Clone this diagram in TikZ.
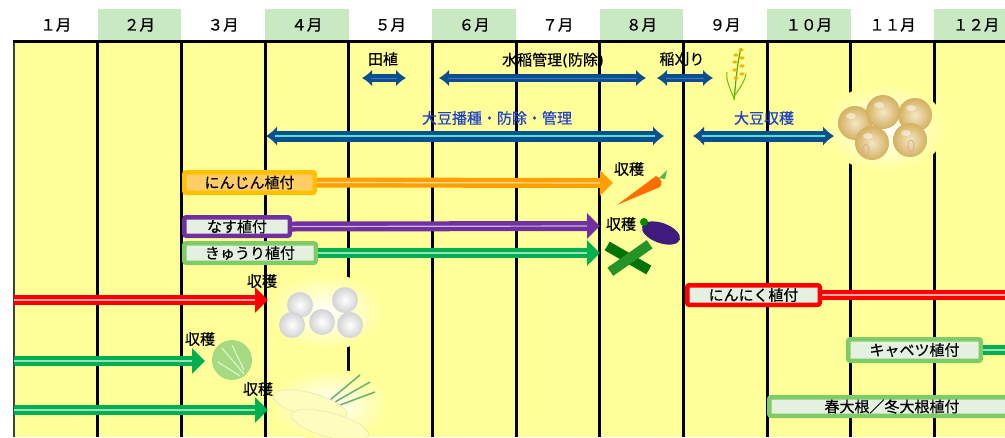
\documentclass[tikz,border=0pt]{standalone}
\usepackage{fontspec}
\setmainfont{Noto Sans CJK JP}[FakeBold=0.5]
\newfontfamily\dvs{DejaVu Sans}[FakeBold=0.5]
\usetikzlibrary{arrows.meta}
\definecolor{yel}{HTML}{FFFF99}
\definecolor{hdr}{HTML}{C9E9C3}
\definecolor{rblue}{HTML}{0C4F8E}
\definecolor{lblue}{HTML}{3A78B8}
\definecolor{cyanl}{HTML}{48E6CC}
\definecolor{tblue}{HTML}{1F40C8}
\definecolor{orgA}{HTML}{FFA000}
\definecolor{orgB}{HTML}{FFC000}
\definecolor{orgF}{HTML}{FFCC66}
\definecolor{purp}{HTML}{7030A0}
\definecolor{grn}{HTML}{00B050}
\definecolor{lgrn}{HTML}{7FCC66}
\definecolor{boxf}{HTML}{E4F1E1}
\definecolor{red1}{HTML}{FF0000}
\definecolor{bean}{HTML}{E8CF8A}
\definecolor{beanD}{HTML}{D4B060}
\tikzset{
  mon/.style={font=\fontsize{15.5}{17}\selectfont, inner sep=0pt},
  lab/.style={font=\fontsize{15}{17}\selectfont, inner sep=0pt},
  blab/.style={lab, text=tblue},
  vbox/.style={draw=#1, line width=4.5pt, rounded corners=2pt, fill=boxf,
     font=\fontsize{15}{17}\selectfont, inner sep=0pt},
  ricearr/.style={rblue, line width=8pt, {Latex[length=10pt,width=17pt]}-{Latex[length=10pt,width=17pt]}},
  ricein/.style={lblue, line width=1pt, shorten <=9pt, shorten >=9pt},
  soyarr/.style={rblue, line width=11pt, {Latex[length=11pt,width=20pt]}-{Latex[length=11pt,width=20pt]}},
  soyin/.style={cyanl, line width=2pt, shorten <=9pt, shorten >=9pt},
  bar/.style={#1, line width=10pt, -{Triangle[length=13pt,width=25pt]}},
  barin/.style={#1, line width=1.2pt, shorten >=13pt},
}
\begin{document}
\begin{tikzpicture}[x=1pt,y=-1pt]
\useasboundingbox (0,0) rectangle (1005,437);
\begin{scope}
\clip (0,0) rectangle (1005,437);
% background
\fill[yel] (14,41) rectangle (1010,437);
\foreach \i in {2,4,...,12}{
  \fill[hdr] ({14+83.67*(\i-1)},9) rectangle ({14+83.67*\i},40);
}
\foreach \k in {1,...,11}{
  \draw[line width=3pt] ({14+83.67*\k},40) -- ({14+83.67*\k},437);
}
\draw[line width=2.5pt, black!75] (14,40) -- (14,437);
\draw[line width=3pt] (12.75,41.5) -- (1010,41.5);
% months
\node[mon] (m1) at (55.8,25) {１月};
\node[mon] (m2) at (139.5,25) {２月};
\node[mon] (m3) at (223.2,25) {３月};
\node[mon] (m4) at (306.8,25) {４月};
\node[mon] (m5) at (390.5,25) {５月};
\node[mon] (m6) at (474.2,25) {６月};
\node[mon] (m7) at (557.8,25) {７月};
\node[mon] (m8) at (641.5,25) {８月};
\node[mon] (m9) at (725.2,25) {９月};
\node[mon] (m10) at (808.8,25) {１０月};
\node[mon] (m11) at (892.5,25) {１１月};
\node[mon] (m12) at (976.2,25) {１２月};

% ---------- pictures (drawn directly) ----------
% rice ear
\draw[green!55!black!70!yellow, line width=1.2pt] (734,100) .. controls (736,80) and (737,65) .. (741,48);
\draw[green!60!black!60!yellow, line width=1pt] (734,98) .. controls (728,85) and (726,78) .. (727,72);
\draw[green!60!black!60!yellow, line width=1pt] (735,95) .. controls (742,85) and (745,80) .. (746,74);
\foreach \yy/\dx in {50/2,55/-3,58/3,62/-4,66/3,70/-4,74/3,78/-3}{
  \fill[orgB!80!brown] ({739+\dx},\yy) ellipse (2.6pt and 1.6pt);
}
% soybeans
\shade[inner color=white, outer color=yel] (885,128) ellipse (60pt and 44pt);
\foreach \cx/\cy in {855/123,883/112,915/115,872/143,910/140}{
  \shade[inner color=bean!50!white, outer color=beanD] (\cx,\cy) circle (17pt);
  \fill[white, opacity=0.5] ({\cx-4},{\cy-7}) ellipse (5pt and 3pt);
}
\draw[brown!60, line width=1pt] (866,150) ellipse (3pt and 6pt);
\draw[brown!60, line width=1pt] (911,146) ellipse (3pt and 6pt);
% carrot
\fill[orange!85!red] (617,205) -- (656,176) .. controls (662,178) and (663,184) .. (660,187) -- cycle;
\fill[green!60!black!70] (659,178) -- (667,170) -- (665,179) -- cycle;
% eggplant
\fill[purp!80!blue!70!black, rotate around={-20:(661,233)}] (661,233) ellipse (20pt and 10pt);
\fill[green!55!black] (644,222) circle (4pt);
% cucumbers
\fill[green!45!black, rotate around={-30:(628,258)}] (604,253) rectangle (652,263);
\fill[green!50!black!85, rotate around={35:(630,258)}] (606,253) rectangle (654,263);
% garlic
\shade[inner color=white, outer color=yel] (325,312) ellipse (58pt and 38pt);
\foreach \cx/\cy in {300/305,345/300,322/322,292/325,350/325}{
  \shade[inner color=white, outer color=gray!35!white] (\cx,\cy) circle (13pt);
}
% cabbage
\fill[green!45!lime!40!white!85!black] (232,360) circle (20pt);
\draw[white!85!green, line width=1pt] (222,348) -- (244,374) (232,345) -- (244,370) (218,362) -- (240,376);
% daikon
\shade[inner color=white, outer color=yel] (330,405) ellipse (58pt and 36pt);
\draw[green!50!black!60, line width=1.5pt] (330,400) -- (360,375) (335,402) -- (370,382) (340,405) -- (375,392);
\fill[yellow!25!white, draw=yellow!50!gray!50, rotate around={-15:(310,405)}] (310,405) ellipse (38pt and 12pt);
\fill[yellow!25!white, draw=yellow!50!gray!50, rotate around={-15:(330,425)}] (330,425) ellipse (40pt and 12pt);

% ---------- rice ----------
\node[lab] (l1) at (383,59) {田植};
\node[lab] (l2) at (553,60) {水稲管理{\dvs(}防除{\dvs)}};
\node[lab] (l3) at (682,59) {稲刈り};
\coordinate (a1s) at (362,78); \coordinate (a1e) at (406,78);
\coordinate (a2s) at (439,78); \coordinate (a2e) at (646,78);
\coordinate (a3s) at (657,78); \coordinate (a3e) at (713,78);
\draw[ricearr] (a1s) -- (a1e); \draw[ricein] (a1s) -- (a1e);
\draw[ricearr] (a2s) -- (a2e); \draw[ricein] (a2s) -- (a2e);
\draw[ricearr] (a3s) -- (a3e); \draw[ricein] (a3s) -- (a3e);
% ---------- soybean ----------
\node[blab] (l4) at (497,118) {大豆播種・防除・管理};
\node[blab] (l5) at (764,118) {大豆収穫};
\coordinate (s1s) at (266,136); \coordinate (s1e) at (664,136);
\coordinate (s2s) at (693,136); \coordinate (s2e) at (834,136);
\draw[soyarr] (s1s) -- (s1e); \draw[soyin] (s1s) -- (s1e);
\draw[soyarr] (s2s) -- (s2e); \draw[soyin] (s2s) -- (s2e);

% ---------- carrot / eggplant / cucumber ----------
\coordinate (c1e) at (613,183);
\coordinate (c2e) at (600,226);
\coordinate (c3e) at (600,253);
\node[vbox=orgB, fill=orgF, minimum width=130.5pt, minimum height=20.5pt] (b1) at (249.5,182.5) {にんじん植付};
\node[vbox=purp, minimum width=105.5pt, minimum height=18.5pt] (b2) at (237,226.5) {なす植付};
\node[vbox=lgrn, minimum width=131.5pt, minimum height=19.5pt] (b3) at (250,253) {きゅうり植付};
\draw[bar=orgA] (b1.east) -- (c1e); \draw[barin=orgF!60!white] (b1.east) -- (c1e);
\draw[bar=purp] (b2.east) -- (c2e); \draw[barin=purp!35!white] (b2.east) -- (c2e);
\draw[bar=grn] (b3.east) -- (c3e); \draw[barin=grn!40!white] (b3.east) -- (c3e);
\node[lab] (h1) at (629,169) {収穫};
\node[lab] (h2) at (621,224) {収穫};

% ---------- garlic ----------
\coordinate (g1s) at (14,300); \coordinate (g1e) at (268,300);
\draw[bar=red1] (g1s) -- (g1e); \draw[barin=red1!35!white] (g1s) -- (g1e);
\node[lab] (h3) at (262,281) {収穫};
\coordinate (g2e) at (1012,295);
\draw[red1, line width=10pt] (753,295) -- (g2e);
\draw[red1!35!white, line width=1.2pt] (753,295) -- (g2e);
\node[vbox=red1, minimum width=132.5pt, minimum height=19.5pt] (b4) at (753.5,295) {にんにく植付};

% ---------- cabbage ----------
\coordinate (k1s) at (14,361); \coordinate (k1e) at (205,361);
\draw[bar=grn] (k1s) -- (k1e); \draw[barin=grn!40!white] (k1s) -- (k1e);
\node[lab] (h4) at (200,339) {収穫};
\coordinate (k2e) at (1030,350);
\node[vbox=lgrn, minimum width=132.5pt, minimum height=21.5pt] (b5) at (914.5,350) {キャベツ植付};
\draw[bar=grn] (b5.east) -- (k2e); \draw[barin=grn!40!white] (b5.east) -- (k2e);

% ---------- daikon ----------
\coordinate (d1s) at (14,410); \coordinate (d1e) at (268,410);
\draw[bar=grn] (d1s) -- (d1e); \draw[barin=grn!40!white] (d1s) -- (d1e);
\node[lab] (h5) at (258,389) {収穫};
\node[vbox=lgrn, minimum width=245.5pt, minimum height=18.5pt] (b6) at (892,406.5) {春大根／冬大根植付};
\end{scope}
\end{tikzpicture}
\end{document}
